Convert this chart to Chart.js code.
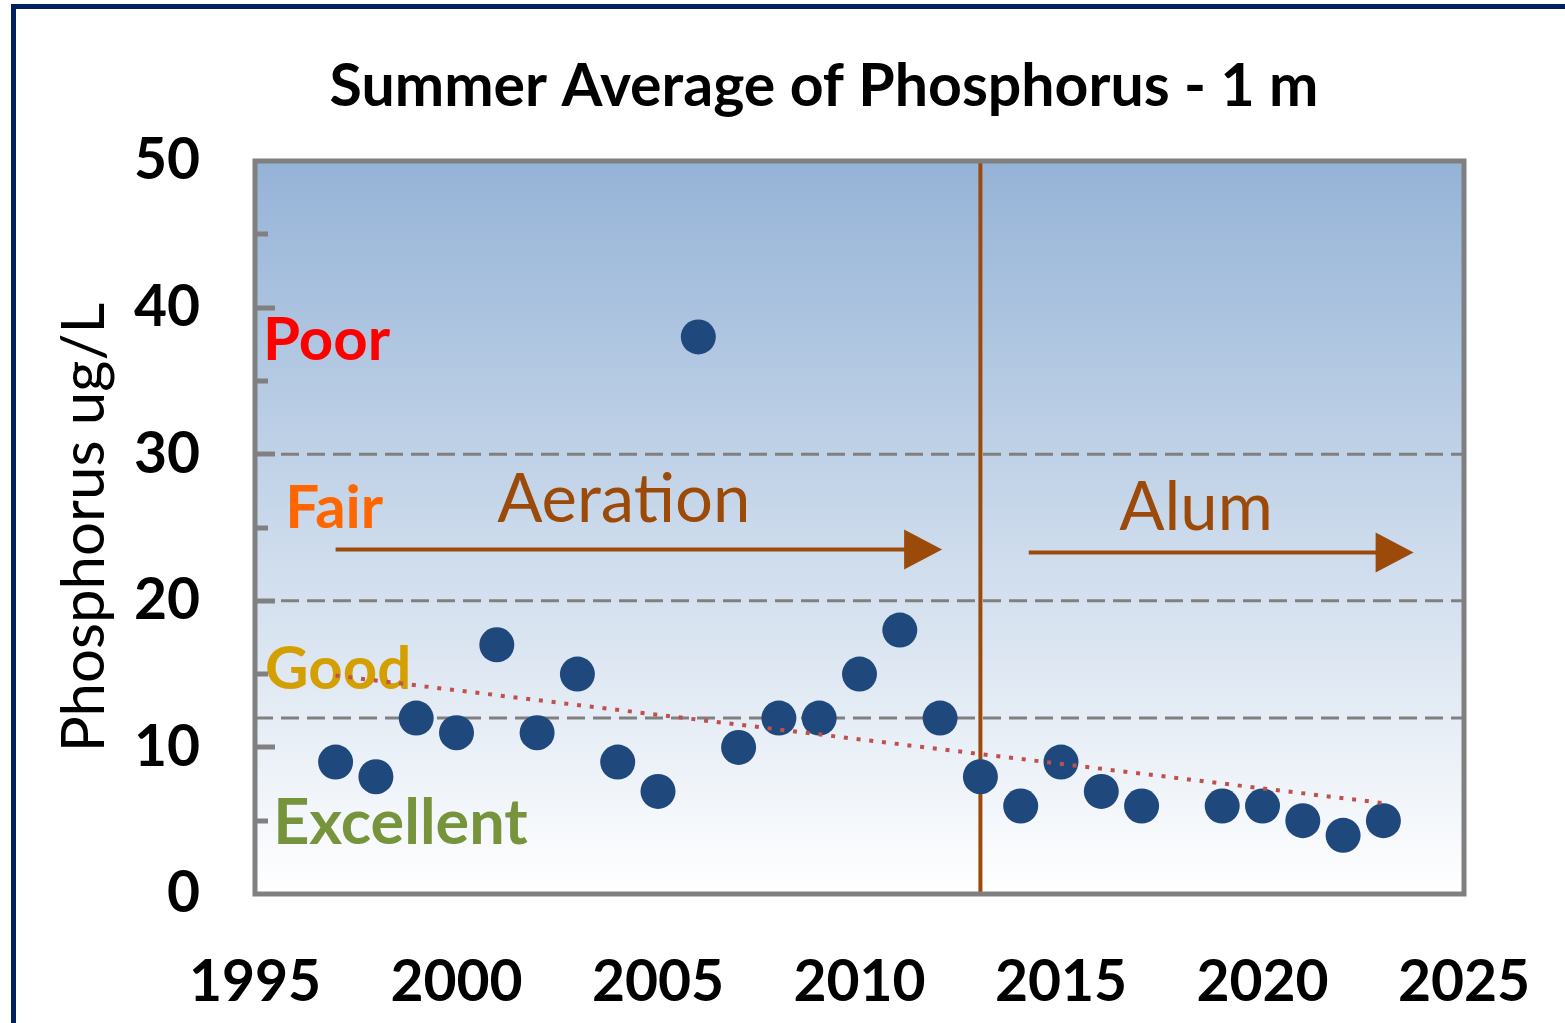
<!DOCTYPE html>
<html>
<head>
<meta charset="utf-8">
<title>Summer Average of Phosphorus - 1 m</title>
<script src="https://cdn.jsdelivr.net/npm/chart.js@4.4.1/dist/chart.umd.min.js"></script>
<style>
  html, body { margin: 0; padding: 0; background: #fff; }
  #wrap { width: 1565px; height: 1023px; }
</style>
</head>
<body>
<div id="wrap"><canvas id="phosChart" width="1565" height="1023"></canvas></div>
<script>
// summer averages at 1 m (ug/L), no sample in 2018
const years = [1997, 1998, 1999, 2000, 2001, 2002, 2003, 2004, 2005, 2006, 2007, 2008, 2009,
  2010, 2011, 2012, 2013, 2014, 2015, 2016, 2017, 2019, 2020, 2021, 2022, 2023];
const phosphorus = [9, 8, 12, 11, 17, 11, 15, 9, 7, 38, 10, 12, 12,
  15, 18, 12, 8, 6, 9, 7, 6, 6, 6, 5, 4, 5];

// linear trend end points
const trendYears = [1997, 2023];
const trendValues = [14.9, 6.2];

// rating thresholds (dashed) and labels
const thresholds = [30, 20, 12];
const ratingNames = ["Poor", "Fair", "Good", "Excellent"];
const ratingColors = ["#ff0000", "#ff6600", "#d4a000", "#77933c"];
const ratingAt = [[1995.2, 36.4], [1995.75, 25.0], [1995.25, 14.0], [1995.45, 3.4]];

// treatments
const alumStart = 2013;
const treatNames = ["Aeration", "Alum"];
const treatLabelAt = [[2004.15, 25.4], [2018.35, 24.8]];
const treatArrows = [[1997, 2012.05, 23.5], [2014.2, 2023.75, 23.3]];

const xTicks = [1995, 2000, 2005, 2010, 2015, 2020, 2025];
const yTicks = [0, 10, 20, 30, 40, 50];
const yMinorTicks = [5, 10, 15, 20, 25, 30, 35, 40, 45];

const brown = "#9c4a0a";
const tickFont = { family: "Lato", size: 57, weight: "bold" };
const ratingSizes = [60, 60, 60, 63];

const decor = {
  id: "decor",
  beforeDraw(chart) {
    const { ctx, chartArea: a } = chart;
    ctx.save();
    const g = ctx.createLinearGradient(0, a.top, 0, a.bottom);
    g.addColorStop(0, "#95b3d7");
    g.addColorStop(1, "#ffffff");
    ctx.fillStyle = g;
    ctx.fillRect(a.left, a.top, a.right - a.left, a.bottom - a.top);
    // outer frame
    ctx.fillStyle = "#002060";
    ctx.fillRect(11, 4, chart.width - 11, 5);
    ctx.fillRect(11, 4, 5, chart.height - 4);
    // title
    ctx.fillStyle = "#000";
    ctx.font = "bold 59px Lato";
    ctx.textAlign = "center";
    ctx.textBaseline = "alphabetic";
    ctx.fillText("Summer Average of Phosphorus - 1 m", 824, 106);
    ctx.restore();
  },
  beforeDatasetsDraw(chart) {
    const { ctx, scales: { x, y } } = chart;
    ctx.save();
    ctx.textBaseline = "alphabetic";
    ctx.textAlign = "left";
    ratingNames.forEach((name, i) => {
      ctx.font = "bold " + ratingSizes[i] + "px Lato";
      ctx.fillStyle = ratingColors[i];
      ctx.fillText(name, x.getPixelForValue(ratingAt[i][0]), y.getPixelForValue(ratingAt[i][1]));
    });
    ctx.font = "67px Lato";
    ctx.textAlign = "center";
    ctx.fillStyle = brown;
    treatNames.forEach((name, i) => {
      ctx.fillText(name, x.getPixelForValue(treatLabelAt[i][0]), y.getPixelForValue(treatLabelAt[i][1]));
    });
    // arrows
    ctx.strokeStyle = brown;
    ctx.lineWidth = 4;
    treatArrows.forEach(([from, to, v]) => {
      const x1 = x.getPixelForValue(from), x2 = x.getPixelForValue(to), py = y.getPixelForValue(v);
      ctx.beginPath();
      ctx.moveTo(x1, py);
      ctx.lineTo(x2 - 30, py);
      ctx.stroke();
      ctx.beginPath();
      ctx.moveTo(x2, py);
      ctx.lineTo(x2 - 38, py - 20);
      ctx.lineTo(x2 - 38, py + 20);
      ctx.closePath();
      ctx.fill();
    });
    ctx.restore();
  },
  afterDatasetsDraw(chart) {
    const { ctx, chartArea: a, scales: { y } } = chart;
    ctx.save();
    ctx.strokeStyle = "#808080";
    ctx.lineWidth = 5;
    ctx.strokeRect(a.left, a.top, a.right - a.left, a.bottom - a.top);
    // inside tick marks
    yMinorTicks.forEach((v) => {
      const py = Math.round(y.getPixelForValue(v));
      ctx.beginPath();
      ctx.moveTo(a.left, py);
      ctx.lineTo(a.left + (v % 10 === 0 ? 20 : 13), py);
      ctx.stroke();
    });
    ctx.restore();
  },
};

const thresholdSets = thresholds.map((v) => ({
  data: [{ x: 1995, y: v }, { x: 2025, y: v }],
  showLine: true,
  borderColor: "#808080",
  borderWidth: 3,
  borderDash: [18, 8],
  pointRadius: 0,
  order: 3,
}));

new Chart(document.getElementById("phosChart"), {
  type: "scatter",
  data: {
    datasets: [
      {
        label: "Trend",
        data: trendYears.map((yr, i) => ({ x: yr, y: trendValues[i] })),
        showLine: true,
        borderColor: "#c0504d",
        borderWidth: 4,
        borderDash: [4, 8.8],
        pointRadius: 0,
        order: 0,
      },
      {
        label: "Phosphorus",
        data: years.map((yr, i) => ({ x: yr, y: phosphorus[i] })),
        backgroundColor: "#1f497d",
        borderColor: "#1f497d",
        pointRadius: 17.5,
        borderWidth: 0,
        order: 1,
      },
      {
        label: "Alum",
        data: [{ x: alumStart, y: 0 }, { x: alumStart, y: 50 }],
        showLine: true,
        borderColor: brown,
        borderWidth: 4,
        pointRadius: 0,
        order: 2,
      },
      ...thresholdSets,
    ],
  },
  options: {
    responsive: false,
    animation: false,
    layout: { padding: { left: 16, right: 101, top: 161, bottom: 0 } },
    plugins: { legend: { display: false }, tooltip: { enabled: false } },
    scales: {
      x: {
        type: "linear",
        min: 1995,
        max: 2025,
        afterBuildTicks: (s) => { s.ticks = xTicks.map((v) => ({ value: v })); },
        afterFit: (s) => { s.height = 129; s.paddingLeft = 0; s.paddingRight = 0; },
        grid: { display: false, drawTicks: false },
        border: { display: false },
        ticks: {
          color: "#000", font: tickFont, padding: 54, maxRotation: 0, autoSkip: false,
          callback: (v) => String(v),
        },
      },
      y: {
        min: 0,
        max: 50,
        afterBuildTicks: (s) => { s.ticks = yTicks.map((v) => ({ value: v })); },
        afterFit: (s) => { s.width = 239; s.paddingTop = 0; s.paddingBottom = 0; },
        grid: { display: false, drawTicks: false },
        border: { display: false },
        ticks: { color: "#000", font: tickFont, padding: 55 },
        title: {
          display: true,
          text: "Phosphorus ug/L",
          color: "#000",
          font: { family: "Lato", size: 60 },
          padding: { top: 33, bottom: 0 },
        },
      },
    },
  },
  plugins: [decor],
});
</script>
</body>
</html>
